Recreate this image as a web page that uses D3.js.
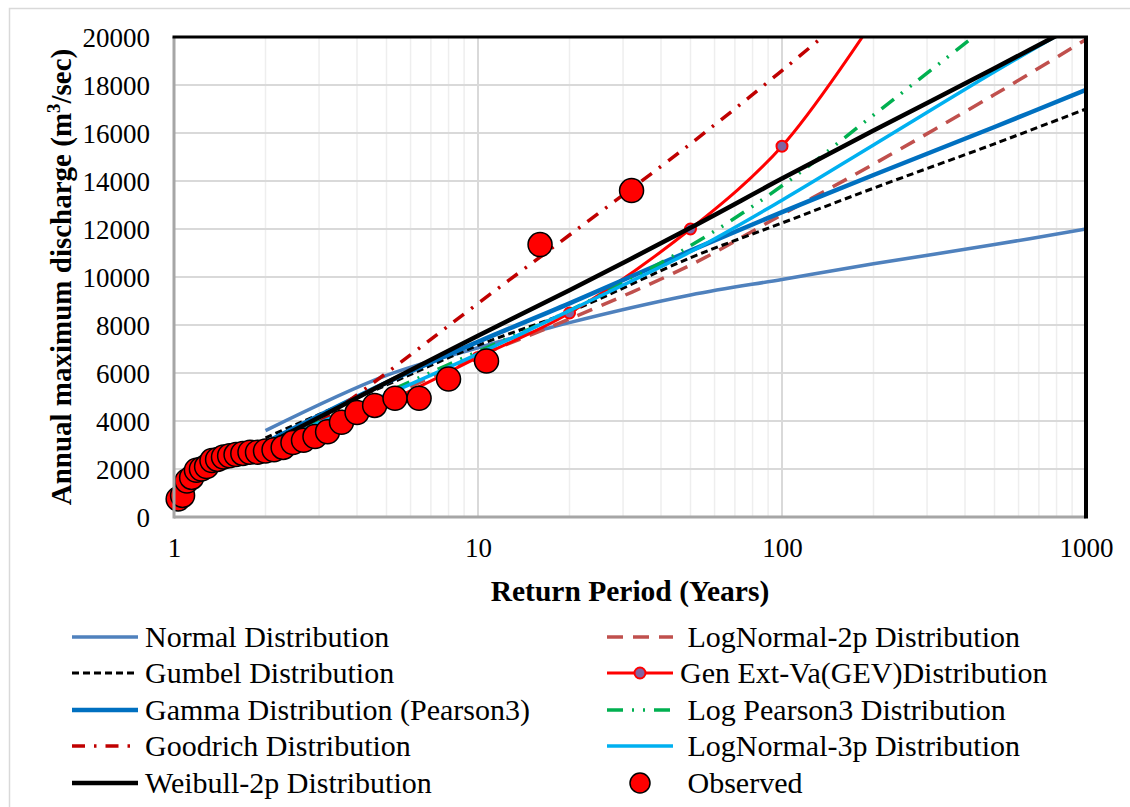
<!DOCTYPE html>
<html>
<head>
<meta charset="utf-8">
<script src="https://cdn.jsdelivr.net/npm/d3@7"></script>
<style>
  html, body { margin: 0; padding: 0; background: #fff; }
  svg { display: block; }
  text { font-family: "Liberation Serif", "Times New Roman", serif; fill: #000; }
</style>
</head>
<body>
<svg id="chart" width="1130" height="807"></svg>
<script>
// Return periods (years) at which each fitted distribution is evaluated
const returnPeriods = [2, 5, 10, 20, 50, 100, 200, 500, 1000];

// Fitted discharge (m3/sec) for each distribution; null = beyond the plotted range
const normalQ      = [3600, 5900, 7050, 8100, 9250, 9900, 10550, 11350, 12000];
const logNormal2Q  = [3000, 5000, 6700, 8250, 10500, 12600, 14700, 17600, 19900];
const gumbelQ      = [3300, 5500, 7150, 8550, 10800, 12250, 13700, 15550, 17000];
const gevQ         = [2900, 4800, 6650, 8500, 12000, 15450, 20700, null, null];
const gammaQ       = [3100, 5600, 7300, 8900, 11100, 12700, 14250, 16250, 17800];
const logPearson3Q = [3000, 5200, 6900, 8600, 11300, 13800, 16750, 20700, null];
const goodrichQ    = [2300, 6000, 8900, 11750, 15550, 18600, 21800, null, null];
const logNormal3Q  = [3000, 5100, 6800, 8600, 11050, 13200, 15500, 18550, 20750];
const weibullQ     = [3000, 5600, 7550, 9450, 12050, 14100, 16100, 18700, 20700];

// Observed annual maxima with their plotting-position return periods
const observedT = [32, 16, 10.667, 8, 6.4, 5.333, 4.571, 4, 3.556, 3.2, 2.909, 2.667,
                   2.462, 2.286, 2.133, 2, 1.882, 1.778, 1.684, 1.6, 1.524, 1.455, 1.391,
                   1.333, 1.28, 1.231, 1.185, 1.143, 1.103, 1.067, 1.032];
const observedQ = [13600, 11350, 6500, 5750, 4950, 4950, 4650, 4350, 3950, 3550, 3350, 3200,
                   3100, 2900, 2800, 2750, 2700, 2700, 2650, 2600, 2550, 2500, 2400,
                   2350, 2100, 2000, 1950, 1650, 1500, 900, 750];

// Axis tick labels
const xTickValues = [1, 10, 100, 1000];
const yTickValues = [0, 2000, 4000, 6000, 8000, 10000, 12000, 14000, 16000, 18000, 20000];

// Series names, in legend order (row by row, two columns)
const seriesNames = [
  "Normal Distribution", " LogNormal-2p Distribution",
  "Gumbel Distribution", "Gen Ext-Va(GEV)Distribution",
  "Gamma Distribution (Pearson3)", " Log Pearson3 Distribution",
  "Goodrich Distribution", " LogNormal-3p Distribution",
  "Weibull-2p Distribution", " Observed"
];

// ---- drawing ----
const FONT = '"Liberation Serif", "Times New Roman", serif';
const svg = d3.select("#chart");
const W = 1130, H = 807;
const plot = { left: 174, right: 1086, top: 37, bottom: 517 };

const x = d3.scaleLog().domain([1, 1000]).range([plot.left, plot.right]);
const y = d3.scaleLinear().domain([0, 20000]).range([plot.bottom, plot.top]);

// outer chart frame
svg.append("rect")
  .attr("x", 9.5).attr("y", 8.5).attr("width", W + 20).attr("height", H + 20)
  .attr("fill", "#fff").attr("stroke", "#D9D9D9").attr("stroke-width", 1.5);

// plot background
svg.append("rect")
  .attr("x", plot.left).attr("y", plot.top)
  .attr("width", plot.right - plot.left).attr("height", plot.bottom - plot.top)
  .attr("fill", "#fff");

// minor vertical gridlines
const minorT = x.ticks().filter(t => !xTickValues.includes(t));
svg.append("g").selectAll("line").data(minorT).join("line")
  .attr("x1", d => x(d)).attr("x2", d => x(d))
  .attr("y1", plot.top).attr("y2", plot.bottom)
  .attr("stroke", "#EEEEEE").attr("stroke-width", 1.5);

// major vertical gridlines
svg.append("g").selectAll("line").data(xTickValues).join("line")
  .attr("x1", d => x(d)).attr("x2", d => x(d))
  .attr("y1", plot.top).attr("y2", plot.bottom)
  .attr("stroke", "#D9D9D9").attr("stroke-width", 2);

// horizontal gridlines
svg.append("g").selectAll("line").data(yTickValues).join("line")
  .attr("x1", plot.left).attr("x2", plot.right)
  .attr("y1", d => y(d)).attr("y2", d => y(d))
  .attr("stroke", "#D9D9D9").attr("stroke-width", 2);

// axes (labels only)
const yAxis = svg.append("g")
  .attr("transform", `translate(${plot.left - 24},0)`)
  .call(d3.axisLeft(y).tickValues(yTickValues).tickSize(0).tickPadding(0).tickFormat(d3.format("d")));
yAxis.select(".domain").remove();
yAxis.selectAll("text")
  .attr("font-family", FONT)
  .attr("font-size", 27).attr("fill", "#000").attr("dy", "0.34em");

const xAxis = svg.append("g")
  .attr("transform", `translate(0,${plot.bottom + 20})`)
  .call(d3.axisBottom(x).tickValues(xTickValues).tickSize(0).tickPadding(0).tickFormat(d3.format("d")));
xAxis.select(".domain").remove();
xAxis.selectAll("text")
  .attr("font-family", FONT)
  .attr("font-size", 27).attr("fill", "#000").attr("dy", "0.75em");

// axis titles
svg.append("text")
  .attr("x", (plot.left + plot.right) / 2).attr("y", 601)
  .attr("text-anchor", "middle").attr("font-size", 29.5).attr("font-weight", "bold")
  .text("Return Period (Years)");

const yTitle = svg.append("text")
  .attr("transform", `translate(71,${(plot.top + plot.bottom) / 2}) rotate(-90)`)
  .attr("text-anchor", "middle").attr("font-size", 29).attr("font-weight", "bold");
yTitle.append("tspan").text("Annual maximum discharge (m");
yTitle.append("tspan").attr("font-size", 19).attr("dy", -11).text("3");
yTitle.append("tspan").attr("dy", 11).text("/sec)");

// series styles
const series = [
  { name: seriesNames[0], q: normalQ,      color: "#4F81BD", width: 3.5, dash: null },
  { name: seriesNames[1], q: logNormal2Q,  color: "#C0504D", width: 3.5, dash: "16,10" },
  { name: seriesNames[2], q: gumbelQ,      color: "#000000", width: 3,   dash: "7,4" },
  { name: seriesNames[3], q: gevQ,         color: "#FF0000", width: 3,   dash: null, marker: true },
  { name: seriesNames[4], q: gammaQ,       color: "#0070C0", width: 4.5, dash: null },
  { name: seriesNames[5], q: logPearson3Q, color: "#00B050", width: 3.5, dash: "16,9,2,9,2,9" },
  { name: seriesNames[6], q: goodrichQ,    color: "#C00000", width: 3.5, dash: "13,9,2.5,9" },
  { name: seriesNames[7], q: logNormal3Q,  color: "#00B0F0", width: 3.5, dash: null },
  { name: seriesNames[8], q: weibullQ,     color: "#000000", width: 4.5, dash: null }
];

svg.append("defs").append("clipPath").attr("id", "plotClip")
  .append("rect").attr("x", plot.left).attr("y", plot.top)
  .attr("width", plot.right - plot.left).attr("height", plot.bottom - plot.top);

const lineLayer = svg.append("g").attr("clip-path", "url(#plotClip)");

// smoothed lines through the fitted points
const lineGen = d3.line()
  .x(d => x(d.t)).y(d => y(d.q))
  .curve(d3.curveCatmullRom.alpha(0.5));

series.forEach(s => {
  const pts = returnPeriods.map((t, i) => ({ t, q: s.q[i] })).filter(d => d.q != null);
  lineLayer.append("path")
    .datum(pts)
    .attr("d", lineGen)
    .attr("fill", "none")
    .attr("stroke", s.color)
    .attr("stroke-width", s.width)
    .attr("stroke-dasharray", s.dash)
    .attr("stroke-linejoin", "round");
  if (s.marker) {
    lineLayer.append("g").selectAll("circle").data(pts).join("circle")
      .attr("cx", d => x(d.t)).attr("cy", d => y(d.q)).attr("r", 5.5)
      .attr("fill", "#8064A2").attr("stroke", "#FF0000").attr("stroke-width", 2);
  }
});

// observed points
const obs = observedT.map((t, i) => ({ t, q: observedQ[i] }));
svg.append("g").selectAll("circle").data(obs.slice().reverse()).join("circle")
  .attr("cx", d => x(d.t)).attr("cy", d => y(d.q)).attr("r", 12)
  .attr("fill", "#FF0000").attr("stroke", "#000").attr("stroke-width", 1.5);

// plot frame
svg.append("line").attr("x1", plot.left).attr("x2", plot.left)
  .attr("y1", plot.top).attr("y2", plot.bottom + 1.5)
  .attr("stroke", "#A6A6A6").attr("stroke-width", 3);
svg.append("line").attr("x1", plot.left).attr("x2", plot.right)
  .attr("y1", plot.bottom).attr("y2", plot.bottom)
  .attr("stroke", "#A6A6A6").attr("stroke-width", 3);
svg.append("line").attr("x1", plot.left - 1.5).attr("x2", plot.right + 2)
  .attr("y1", plot.top).attr("y2", plot.top)
  .attr("stroke", "#000").attr("stroke-width", 3);
svg.append("line").attr("x1", plot.right).attr("x2", plot.right)
  .attr("y1", plot.top).attr("y2", plot.bottom + 1.5)
  .attr("stroke", "#000").attr("stroke-width", 4);

// legend: two columns
const legendRows = [637, 673, 710, 746, 783];
const legendCols = [{ x0: 72, x1: 138 }, { x0: 607, x1: 673 }];
const legendItems = series.map(s => s).concat([{ name: seriesNames[9], observed: true }]);
const legend = svg.append("g");
legendItems.forEach((s, i) => {
  const col = legendCols[i % 2], row = legendRows[Math.floor(i / 2)];
  const g = legend.append("g");
  if (s.observed) {
    g.append("circle").attr("cx", (col.x0 + col.x1) / 2).attr("cy", row).attr("r", 10)
      .attr("fill", "#FF0000").attr("stroke", "#000").attr("stroke-width", 1.5);
  } else {
    g.append("line").attr("x1", col.x0).attr("x2", col.x1).attr("y1", row).attr("y2", row)
      .attr("stroke", s.color).attr("stroke-width", s.width)
      .attr("stroke-dasharray", s.dash);
    if (s.marker) {
      g.append("circle").attr("cx", (col.x0 + col.x1) / 2).attr("cy", row).attr("r", 5.5)
        .attr("fill", "#8064A2").attr("stroke", "#FF0000").attr("stroke-width", 2);
    }
  }
  g.append("text")
    .attr("x", col.x1 + 7).attr("y", row).attr("dy", "0.34em")
    .attr("font-family", FONT)
    .attr("font-size", 30).style("white-space", "pre")
    .text(s.name);
});
</script>
</body>
</html>
